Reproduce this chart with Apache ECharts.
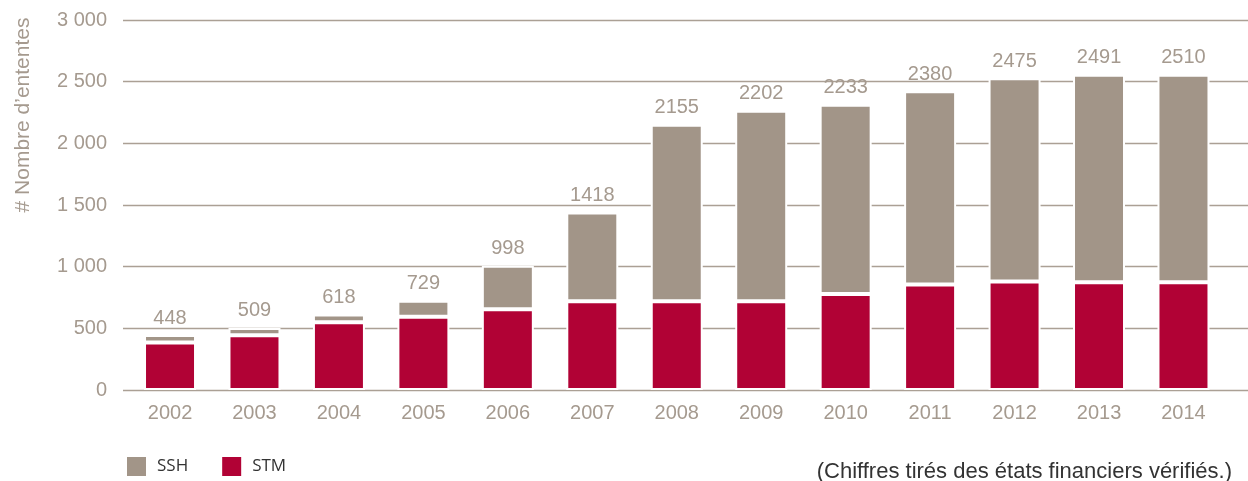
<!DOCTYPE html>
<html>
<head>
<meta charset="utf-8">
<script src="https://cdn.jsdelivr.net/npm/echarts@6/dist/echarts.min.js"></script>
<style>
html,body{margin:0;padding:0;background:#fff;}
#chart{width:1248px;height:481px;}
</style>
</head>
<body>
<div id="chart"></div>
<script>
const categories = ['2002','2003','2004','2005','2006','2007','2008','2009','2010','2011','2012','2013','2014'];
const stmValues = [385, 443, 549, 594, 655, 719, 719, 719, 778, 855, 880, 873, 873];
const sshValues = [61, 60, 64, 130, 353, 721, 1432, 1546, 1535, 1567, 1647, 1684, 1684];
const totalLabels = ['448','509','618','729','998','1418','2155','2202','2233','2380','2475','2491','2510'];
const yTickLabels = ['0','500','1 000','1 500','2 000','2 500','3 000'];
const yAxisTitle = '# Nombre d\u2019ententes';
const footnote = '(Chiffres tirés des états financiers vérifiés.)';

const taupe = '#a29588';
const crimson = '#b10235';
const gridColor = '#aba095';
const textGrey = '#a59a8f';
const sans = '"Liberation Sans", Arial, Helvetica, sans-serif';

const chart = echarts.init(document.getElementById('chart'));
chart.setOption({
  animation: false,
  backgroundColor: '#fff',
  grid: [
    {left: 127.8, right: 22.3, top: 20, bottom: 91},
    {left: 123, right: 0, top: 20, bottom: 91}
  ],
  legend: {
    left: 122, top: 452,
    itemWidth: 19, itemHeight: 19, itemGap: 34,
    icon: 'rect',
    itemStyle: {borderWidth: 0},
    textStyle: {fontFamily: '"Open Sans", sans-serif', fontSize: 17, color: '#333', padding: [0,0,0,6]},
    data: ['SSH', 'STM']
  },
  xAxis: [
    {
      type: 'category', gridIndex: 0, data: categories,
      axisLine: {show: false}, axisTick: {show: false},
      axisLabel: {color: textGrey, fontFamily: sans, fontSize: 20, margin: 13}
    },
    {
      type: 'category', gridIndex: 1, data: categories, show: false
    }
  ],
  yAxis: [
    {type: 'value', gridIndex: 0, min: 0, max: 3000, interval: 500, show: false},
    {
      type: 'value', gridIndex: 1, min: 0, max: 3000, interval: 500,
      axisLine: {show: false}, axisTick: {show: false},
      splitLine: {show: true, lineStyle: {color: gridColor, width: 1.4}},
      axisLabel: {
        color: textGrey, fontFamily: sans, fontSize: 20, margin: 16,
        formatter: function (v) { return yTickLabels[Math.round(v / 500)]; }
      }
    }
  ],
  graphic: [
    {
      type: 'text', x: 23, y: 115, rotation: Math.PI / 2,
      style: {text: yAxisTitle, fill: textGrey, font: '21px ' + sans, align: 'center', verticalAlign: 'middle'}
    },
    {
      type: 'text', x: 1232, y: 472,
      style: {text: footnote, fill: '#333', font: '22px ' + sans, align: 'right', verticalAlign: 'middle'}
    }
  ],
  series: [
    {
      name: 'STM', type: 'bar', stack: 'total', xAxisIndex: 0, yAxisIndex: 0,
      data: stmValues, barWidth: 52,
      itemStyle: {color: crimson, borderColor: '#fff', borderWidth: 2}
    },
    {
      name: 'SSH', type: 'bar', stack: 'total', xAxisIndex: 0, yAxisIndex: 0,
      data: sshValues, barWidth: 52,
      itemStyle: {color: taupe, borderColor: '#fff', borderWidth: 2},
      label: {
        show: true, position: 'top', distance: 7,
        color: textGrey, fontFamily: sans, fontSize: 20,
        formatter: function (p) { return totalLabels[p.dataIndex]; }
      }
    }
  ]
});
</script>
</body>
</html>
